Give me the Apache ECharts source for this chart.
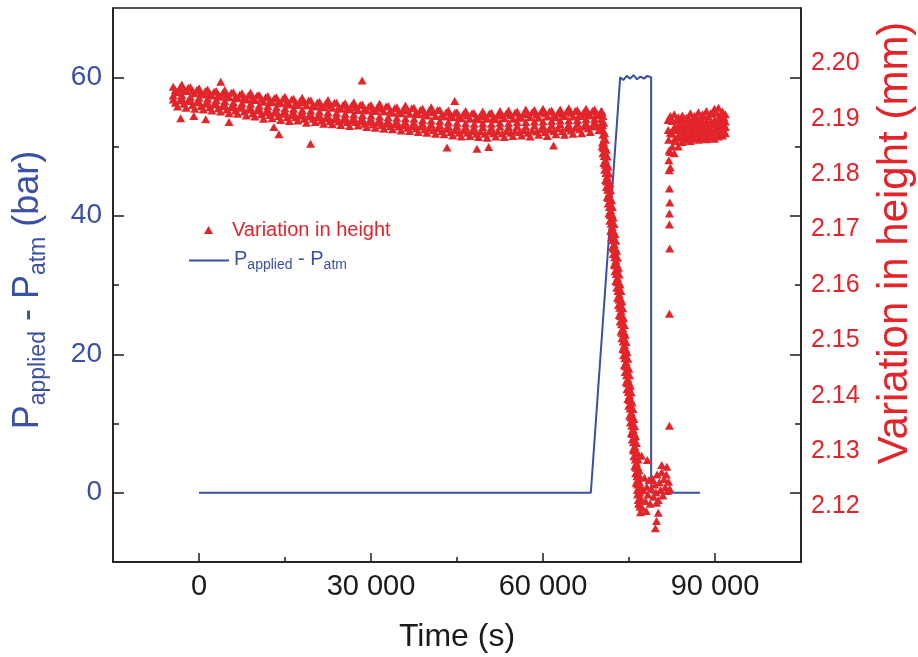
<!DOCTYPE html>
<html>
<head>
<meta charset="utf-8">
<script src="https://cdn.jsdelivr.net/npm/echarts@6/dist/echarts.min.js"></script>
<style>
html,body{margin:0;padding:0;background:#fff;}
#chart{width:918px;height:657px;}
</style>
</head>
<body>
<div id="chart"></div>
<script>
// ---------- tick values ----------
const xMajorTicks = [0, 30000, 60000, 90000];
const xMinorTicks = [15000, 45000, 75000];
const pMajorTicks = [0, 20, 40, 60];
const pMinorTicks = [10, 30, 50];
const hTickLabels = [2.12, 2.13, 2.14, 2.15, 2.16, 2.17, 2.18, 2.19, 2.20];

// ---------- pressure (bar) ----------
const pTime  = [0, 68340, 73460, 74000, 74600, 75200, 75800, 76400, 77000, 77600, 78200, 78860, 78860, 87400];
const pValue = [0, 0, 60, 59.6, 60.2, 59.8, 60.3, 59.7, 60.1, 59.8, 60.2, 60, 0, 0];

// ---------- height (mm): slow creep before loading ----------
const mainTimeA = [-4500,-3000,-1500,0,1500,3000,4500,6000,7500,9000,10500,12000,13500,15000,16500,18000,19500,21000,22500,24000,25500,27000,28500,30000,31500,33000,34500,36000,37500,39000,40500,42000,43500,45000,46500,48000,49500,51000,52500,54000,55500,57000,58500,60000,61500,63000,64500,66000,67500,69000,70200];
const mainTop   = [2.1958,2.1962,2.1957,2.1955,2.1953,2.1950,2.1952,2.1948,2.1946,2.1947,2.1943,2.1941,2.1939,2.1940,2.1936,2.1938,2.1933,2.1931,2.1934,2.1929,2.1928,2.1930,2.1926,2.1925,2.1927,2.1923,2.1921,2.1924,2.1920,2.1918,2.1921,2.1916,2.1915,2.1912,2.1914,2.1910,2.1913,2.1911,2.1914,2.1915,2.1913,2.1917,2.1916,2.1918,2.1915,2.1917,2.1919,2.1916,2.1918,2.1917,2.1914];
const mainMid   = [2.1942,2.1943,2.1940,2.1938,2.1936,2.1934,2.1932,2.1930,2.1928,2.1927,2.1924,2.1923,2.1921,2.1919,2.1918,2.1916,2.1915,2.1913,2.1912,2.1911,2.1909,2.1908,2.1907,2.1906,2.1904,2.1903,2.1902,2.1901,2.1900,2.1898,2.1897,2.1896,2.1894,2.1893,2.1892,2.1891,2.1892,2.1891,2.1893,2.1892,2.1894,2.1894,2.1895,2.1895,2.1896,2.1897,2.1897,2.1898,2.1899,2.1900,2.1900];
const mainLower = [2.1935,2.1937,2.1934,2.1931,2.1930,2.1927,2.1925,2.1924,2.1921,2.1920,2.1918,2.1916,2.1914,2.1913,2.1911,2.1910,2.1908,2.1907,2.1905,2.1904,2.1903,2.1901,2.1900,2.1899,2.1898,2.1896,2.1895,2.1894,2.1893,2.1891,2.1890,2.1889,2.1887,2.1886,2.1885,2.1884,2.1885,2.1884,2.1886,2.1885,2.1887,2.1886,2.1888,2.1887,2.1889,2.1890,2.1889,2.1891,2.1892,2.1894,2.1893];
const mainTimeB = [-3750,-2250,-750,750,2250,3750,5250,6750,8250,9750,11250,12750,14250,15750,17250,18750,20250,21750,23250,24750,26250,27750,29250,30750,32250,33750,35250,36750,38250,39750,41250,42750,44250,45750,47250,48750,50250,51750,53250,54750,56250,57750,59250,60750,62250,63750,65250,66750,68250,69750];
const mainUpper = [2.1948,2.1950,2.1946,2.1944,2.1942,2.1940,2.1939,2.1937,2.1935,2.1934,2.1931,2.1930,2.1928,2.1926,2.1925,2.1924,2.1922,2.1921,2.1920,2.1918,2.1917,2.1916,2.1915,2.1914,2.1913,2.1911,2.1910,2.1909,2.1908,2.1906,2.1905,2.1904,2.1903,2.1901,2.1900,2.1899,2.1900,2.1899,2.1901,2.1900,2.1902,2.1903,2.1902,2.1904,2.1903,2.1905,2.1904,2.1905,2.1906,2.1907];
const mainBottom= [2.1922,2.1920,2.1918,2.1917,2.1915,2.1913,2.1910,2.1909,2.1906,2.1904,2.1900,2.1901,2.1898,2.1896,2.1897,2.1893,2.1894,2.1891,2.1890,2.1889,2.1887,2.1888,2.1885,2.1884,2.1882,2.1881,2.1879,2.1878,2.1876,2.1875,2.1873,2.1872,2.1870,2.1868,2.1869,2.1867,2.1866,2.1868,2.1867,2.1869,2.1870,2.1868,2.1871,2.1869,2.1872,2.1871,2.1873,2.1874,2.1876,2.1880];
const mainTimeC = [-4125,-2625,-1125,375,1875,3375,4875,6375,7875,9375,10875,12375,13875,15375,16875,18375,19875,21375,22875,24375,25875,27375,28875,30375,31875,33375,34875,36375,37875,39375,40875,42375,43875,45375,46875,48375,49875,51375,52875,54375,55875,57375,58875,60375,61875,63375,64875,66375,67875,69375];
const mainHighC = [2.1952,2.1953,2.1951,2.1947,2.1946,2.1943,2.1944,2.1940,2.1939,2.1938,2.1936,2.1933,2.1932,2.1931,2.1929,2.1930,2.1925,2.1924,2.1925,2.1921,2.1920,2.1921,2.1918,2.1917,2.1918,2.1915,2.1913,2.1915,2.1912,2.1910,2.1912,2.1908,2.1907,2.1905,2.1906,2.1903,2.1905,2.1903,2.1906,2.1907,2.1905,2.1908,2.1908,2.1910,2.1907,2.1909,2.1911,2.1908,2.1910,2.1910];
const mainLowC  = [2.1929,2.1927,2.1925,2.1923,2.1921,2.1919,2.1917,2.1915,2.1913,2.1910,2.1908,2.1907,2.1905,2.1903,2.1903,2.1900,2.1900,2.1897,2.1896,2.1895,2.1894,2.1894,2.1891,2.1890,2.1889,2.1887,2.1886,2.1884,2.1883,2.1881,2.1880,2.1878,2.1876,2.1875,2.1875,2.1873,2.1873,2.1874,2.1874,2.1875,2.1876,2.1875,2.1877,2.1876,2.1878,2.1878,2.1879,2.1881,2.1883,2.1886];
const mainTimeD = [-3375,-1875,-375,1125,2625,4125,5625,7125,8625,10125,11625,13125,14625,16125,17625,19125,20625,22125,23625,25125,26625,28125,29625,31125,32625,34125,35625,37125,38625,40125,41625,43125,44625,46125,47625,49125,50625,52125,53625,55125,56625,58125,59625,61125,62625,64125,65625,67125,68625,70125];
const mainHighD = [2.1955,2.1956,2.1952,2.1950,2.1949,2.1946,2.1947,2.1944,2.1942,2.1942,2.1939,2.1937,2.1936,2.1935,2.1932,2.1933,2.1929,2.1928,2.1929,2.1925,2.1924,2.1925,2.1922,2.1921,2.1922,2.1919,2.1917,2.1919,2.1916,2.1914,2.1916,2.1912,2.1911,2.1909,2.1910,2.1907,2.1909,2.1907,2.1910,2.1911,2.1909,2.1912,2.1912,2.1913,2.1911,2.1913,2.1914,2.1912,2.1914,2.1913];
const mainLowD  = [2.1933,2.1932,2.1930,2.1927,2.1926,2.1923,2.1921,2.1920,2.1917,2.1915,2.1912,2.1911,2.1909,2.1907,2.1906,2.1904,2.1903,2.1901,2.1899,2.1898,2.1897,2.1896,2.1894,2.1893,2.1891,2.1890,2.1889,2.1887,2.1886,2.1884,2.1883,2.1882,2.1880,2.1879,2.1878,2.1877,2.1877,2.1877,2.1878,2.1878,2.1880,2.1879,2.1881,2.1881,2.1883,2.1883,2.1884,2.1886,2.1887,2.1890];

// ---------- height: compression while pressure rises ----------
const dropTime   = [70300,70450,70600,70750,70900,71050,71200,71350,71500,71650,71800,71950,72100,72250,72400,72550,72700,72850,73000,73150,73300,73450,73600,73750,73900,74050,74200,74350,74500,74650,74800,74950,75100,75250,75400,75550,75700,75850,76000,76150,76300,76450,76600,76750,76900];
const dropUpper  = [2.1912,2.1905,2.1893,2.1874,2.1862,2.1844,2.1832,2.1814,2.1801,2.1783,2.1771,2.1753,2.1741,2.1722,2.1710,2.1692,2.1680,2.1662,2.1649,2.1631,2.1619,2.1601,2.1589,2.1570,2.1558,2.1540,2.1528,2.1510,2.1497,2.1479,2.1467,2.1449,2.1437,2.1418,2.1406,2.1388,2.1376,2.1358,2.1345,2.1327,2.1315,2.1297,2.1285,2.1266,2.1254];
const dropCenter = [2.1881,2.1871,2.1857,2.1841,2.1826,2.1811,2.1796,2.1781,2.1765,2.1750,2.1735,2.1720,2.1705,2.1689,2.1674,2.1659,2.1644,2.1629,2.1613,2.1598,2.1583,2.1568,2.1553,2.1537,2.1522,2.1507,2.1492,2.1477,2.1461,2.1446,2.1431,2.1416,2.1401,2.1385,2.1370,2.1355,2.1340,2.1325,2.1309,2.1294,2.1279,2.1264,2.1249,2.1236,2.1227];
const dropLower  = [2.1850,2.1838,2.1820,2.1808,2.1789,2.1777,2.1759,2.1747,2.1729,2.1716,2.1698,2.1686,2.1668,2.1656,2.1637,2.1625,2.1607,2.1595,2.1577,2.1564,2.1546,2.1534,2.1516,2.1504,2.1485,2.1473,2.1455,2.1443,2.1425,2.1412,2.1394,2.1382,2.1364,2.1352,2.1333,2.1321,2.1303,2.1291,2.1273,2.1260,2.1242,2.1230,2.1212,2.1206,2.1200];
const dropTimeB  = [70375,70525,70675,70825,70975,71125,71275,71425,71575,71725,71875,72025,72175,72325,72475,72625,72775,72925,73075,73225,73375,73525,73675,73825,73975,74125,74275,74425,74575,74725,74875,75025,75175,75325,75475,75625,75775,75925,76075,76225,76375,76525,76675,76825];
const dropHighB  = [2.1889,2.1879,2.1865,2.1849,2.1834,2.1819,2.1804,2.1789,2.1773,2.1758,2.1743,2.1728,2.1713,2.1697,2.1682,2.1667,2.1652,2.1637,2.1621,2.1606,2.1591,2.1576,2.1561,2.1545,2.1530,2.1515,2.1500,2.1485,2.1469,2.1454,2.1439,2.1424,2.1409,2.1393,2.1378,2.1363,2.1348,2.1333,2.1317,2.1302,2.1287,2.1272,2.1257,2.1244];
const dropLowB   = [2.1857,2.1847,2.1833,2.1817,2.1802,2.1787,2.1772,2.1757,2.1741,2.1726,2.1711,2.1696,2.1681,2.1665,2.1650,2.1635,2.1620,2.1605,2.1589,2.1574,2.1559,2.1544,2.1529,2.1513,2.1498,2.1483,2.1468,2.1453,2.1437,2.1422,2.1407,2.1392,2.1377,2.1361,2.1346,2.1331,2.1316,2.1301,2.1285,2.1270,2.1255,2.1240,2.1225,2.1212];

// ---------- height: at full pressure and right after release ----------
const troughPoints = [[76300,2.1245],[76500,2.1222],[76700,2.1205],[76900,2.1238],[77100,2.1215],[77300,2.1198],[77500,2.1230],[77700,2.1252],[77900,2.1210],[78100,2.1236],[78300,2.1222],[78500,2.1248],[78700,2.1205],[78900,2.1232],[79100,2.1250],[79300,2.1218],[79500,2.1240],[79700,2.1226],[79900,2.1258],[80100,2.1212],[80300,2.1244],[80500,2.1230],[80700,2.1262],[80900,2.1220],[81100,2.1250],[81300,2.1235],[81500,2.1258],[81700,2.1228],[81900,2.1245],[82100,2.1232],[77200,2.1292],[78200,2.1284],[80700,2.1275],[81600,2.1272],[79800,2.1207],[80100,2.1189],[79800,2.1174],[79600,2.1161],[78000,2.1192],[77000,2.1190]];
const risePoints   = [[82050,2.1346],[82050,2.1548],[82100,2.1666],[82050,2.1709],[82050,2.1729],[82100,2.1749],[82050,2.1774],[82000,2.1807],[81950,2.1825],[82000,2.1843],[81900,2.1862],[81850,2.1880],[81800,2.1898]];

// ---------- height: recovery after release ----------
const recTime   = [82200,82900,83600,84300,85000,85700,86400,87100,87800,88500,89200,89900,90600,91300,91800];
const recTop    = [2.1905,2.1908,2.1903,2.1906,2.1902,2.1910,2.1905,2.1912,2.1908,2.1914,2.1910,2.1918,2.1920,2.1913,2.1908];
const recUpper  = [2.1875,2.1885,2.1888,2.1890,2.1889,2.1893,2.1890,2.1895,2.1892,2.1896,2.1894,2.1898,2.1900,2.1897,2.1895];
const recLower  = [2.1840,2.1862,2.1870,2.1873,2.1875,2.1878,2.1876,2.1880,2.1877,2.1881,2.1879,2.1882,2.1884,2.1883,2.1885];
const recBottom = [2.1812,2.1838,2.1850,2.1858,2.1862,2.1860,2.1864,2.1862,2.1865,2.1863,2.1866,2.1864,2.1868,2.1870,2.1874];
const recTimeB  = [82550,83250,83950,84650,85350,86050,86750,87450,88150,88850,89550,90250,90950,91550];
const recHighB  = [2.1896,2.1897,2.1898,2.1899,2.1901,2.1900,2.1903,2.1902,2.1905,2.1904,2.1909,2.1911,2.1907,2.1903];
const recMidB   = [2.1873,2.1880,2.1882,2.1883,2.1886,2.1884,2.1888,2.1886,2.1889,2.1887,2.1890,2.1892,2.1890,2.1890];
const recLowB   = [2.1850,2.1860,2.1866,2.1869,2.1869,2.1870,2.1871,2.1872,2.1873,2.1872,2.1873,2.1875,2.1876,2.1879];

// ---------- isolated outliers ----------
const outlierPoints = [[-3200,2.1901],[-900,2.1905],[1170,2.1899],[3780,2.1967],[5230,2.1894],[13060,2.1885],[13940,2.1872],[19460,2.1855],[28450,2.1969],[43260,2.1848],[44600,2.1932],[48480,2.1846],[50520,2.1849],[61840,2.1852]];

// ---------- build series data ----------
const pressureData = pTime.map((t, i) => [t, pValue[i]]);
const heightData = [];
function addCols(times, ...rows) {
  times.forEach((t, i) => rows.forEach(r => { if (r[i] !== undefined) heightData.push([t, r[i]]); }));
}
addCols(mainTimeA, mainTop, mainMid, mainLower);
addCols(mainTimeB, mainUpper, mainBottom);
addCols(mainTimeC, mainHighC, mainLowC);
addCols(mainTimeD, mainHighD, mainLowD);
addCols(dropTime, dropUpper, dropCenter, dropLower);
addCols(dropTimeB, dropHighB, dropLowB);
troughPoints.forEach(p => heightData.push(p));
risePoints.forEach(p => heightData.push(p));
addCols(recTime, recTop, recUpper, recLower, recBottom);
addCols(recTimeB, recHighB, recMidB, recLowB);
outlierPoints.forEach(p => heightData.push(p));

const BLUE = '#3b4fa3';
const RED = '#e3242b';
const FONT = '"Liberation Sans", Arial, Helvetica, sans-serif';
const XMIN = -15000, XMAX = 105000;
const PMIN = -10, PMAX = 70;
const INK = '#1a1a1a';

function fmtThousands(v) {
  return String(v).replace(/\B(?=(\d{3})+(?!\d))/g, ' ');
}
function tickAxisY(position, values, length) {
  return {
    type: 'value', min: PMIN, max: PMAX, interval: 10, position: position,
    axisLine: {show: false, onZero: false}, axisLabel: {show: false}, splitLine: {show: false},
    axisTick: {show: true, inside: true, length: length, customValues: values, lineStyle: {color: INK, width: 1.5}}
  };
}

const chart = echarts.init(document.getElementById('chart'), null, {renderer: 'canvas'});
const option = {
  animation: false,
  backgroundColor: '#fff',
  textStyle: {fontFamily: FONT},
  grid: {left: 113, right: 117, top: 8, bottom: 95, containLabel: false, outerBoundsMode: 'none',
         show: true, borderColor: INK, borderWidth: 1.5, backgroundColor: 'transparent'},
  legend: [
    {
      data: [{name: 'Variation in height', icon: 'triangle'}],
      left: 204, top: 220, padding: 0,
      itemWidth: 9, itemHeight: 8,
      textStyle: {color: RED, fontSize: 20, fontFamily: FONT, padding: [0, 0, 0, 14]}
    },
    {
      data: [{name: 'P_applied - P_atm', icon: 'rect'}],
      left: 189, top: 249, padding: 0,
      itemWidth: 40, itemHeight: 2,
      formatter: () => '{m|P}{s|applied}{m| - P}{s|atm}',
      textStyle: {
        color: BLUE, fontFamily: FONT,
        rich: {
          m: {fontSize: 20, lineHeight: 23, verticalAlign: 'top', color: BLUE, fontFamily: FONT},
          s: {fontSize: 14, lineHeight: 8, verticalAlign: 'bottom', color: BLUE, fontFamily: FONT}
        }
      }
    }
  ],
  xAxis: [
    {
      type: 'value', min: XMIN, max: XMAX, interval: 15000, position: 'bottom',
      name: 'Time (s)', nameLocation: 'middle', nameGap: 59,
      nameTextStyle: {fontSize: 32, color: INK, fontFamily: FONT},
      axisLine: {show: true, onZero: false, lineStyle: {color: INK, width: 1.5}},
      axisTick: {show: true, inside: true, length: 9, customValues: xMajorTicks, lineStyle: {color: INK, width: 1.5}},
      axisLabel: {customValues: xMajorTicks, fontSize: 29, color: INK, margin: 10, fontFamily: FONT, formatter: fmtThousands},
      splitLine: {show: false}
    },
    {
      type: 'value', min: XMIN, max: XMAX, interval: 15000, position: 'bottom',
      axisLine: {show: false, onZero: false},
      axisTick: {show: true, inside: true, length: 5, customValues: xMinorTicks, lineStyle: {color: INK, width: 1.5}},
      axisLabel: {show: false},
      splitLine: {show: false}
    }
  ],
  yAxis: [
    {
      type: 'value', min: PMIN, max: PMAX, interval: 10, position: 'left',
      name: '{m|P}{s|applied}{m| - P}{s|atm}{m| (bar)}', nameLocation: 'middle', nameGap: 63,
      nameTextStyle: {
        color: BLUE, fontFamily: FONT, padding: [0, 10, 0, 0],
        rich: {
          m: {fontSize: 36, lineHeight: 40, verticalAlign: 'top', color: BLUE, fontFamily: FONT},
          s: {fontSize: 23, lineHeight: 12, verticalAlign: 'bottom', color: BLUE, fontFamily: FONT}
        }
      },
      axisLine: {show: true, onZero: false, lineStyle: {color: INK, width: 1.5}},
      axisTick: {show: true, inside: true, length: 11, customValues: pMajorTicks, lineStyle: {color: INK, width: 1.5}},
      axisLabel: {customValues: pMajorTicks, fontSize: 28, color: BLUE, margin: 11, fontFamily: FONT},
      splitLine: {show: false}
    },
    {
      type: 'value', min: 2.11, max: 2.21, interval: 0.01, position: 'right',
      name: 'Variation in height (mm)', nameLocation: 'middle', nameGap: 73,
      nameTextStyle: {fontSize: 42, color: RED, fontFamily: FONT, padding: [0, 0, 0, 84]},
      axisLine: {show: true, onZero: false, lineStyle: {color: INK, width: 1.5}},
      axisTick: {show: false},
      axisLabel: {customValues: hTickLabels, fontSize: 25, color: RED, margin: 10, fontFamily: FONT, formatter: v => v.toFixed(2)},
      splitLine: {show: false}
    },
    tickAxisY('left', pMinorTicks, 6),
    tickAxisY('right', pMajorTicks, 11),
    tickAxisY('right', pMinorTicks, 6)
  ],
  series: [
    {
      name: 'P_applied - P_atm', type: 'line', xAxisIndex: 0, yAxisIndex: 0,
      data: pressureData, symbol: 'none', showSymbol: false,
      lineStyle: {color: BLUE, width: 2}, itemStyle: {color: BLUE}, z: 2
    },
    {
      name: 'Variation in height', type: 'scatter', xAxisIndex: 0, yAxisIndex: 1,
      data: heightData, symbol: 'triangle', symbolSize: [9, 8],
      itemStyle: {color: RED, borderWidth: 0, opacity: 1}, z: 3
    }
  ]
};
chart.setOption(option);
</script>
</body>
</html>
